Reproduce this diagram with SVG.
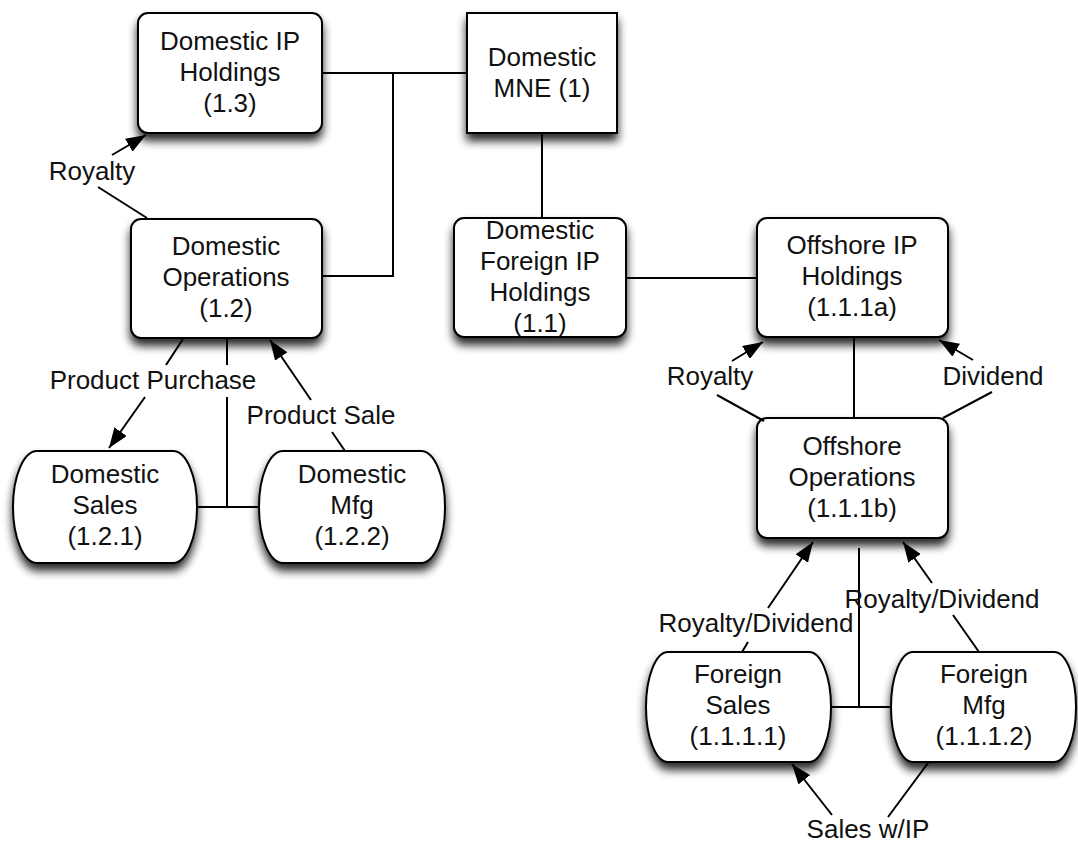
<svg xmlns="http://www.w3.org/2000/svg" width="1078" height="844" viewBox="0 0 1078 844">
  <style>
    .box { fill: #ffffff; stroke: #000000; stroke-width: 2; filter: url(#shadow); }
    .txt { font-family: "Liberation Sans", Arial, Helvetica, sans-serif; font-size: 26px; fill: #111111; text-anchor: middle; }
    .wire { fill: none; stroke: #000000; stroke-width: 2; }
    .flow { fill: none; stroke: #000000; stroke-width: 2; marker-end: url(#head); }
  </style>
  <defs>
    <filter id="shadow" x="-20%" y="-20%" width="140%" height="160%">
      <feGaussianBlur in="SourceAlpha" stdDeviation="5"/>
      <feOffset dx="0" dy="7" result="blur"/>
      <feComponentTransfer in="blur" result="soft">
        <feFuncA type="linear" slope="0.85"/>
      </feComponentTransfer>
      <feMerge>
        <feMergeNode in="soft"/>
        <feMergeNode in="SourceGraphic"/>
      </feMerge>
    </filter>
    <marker id="head" markerUnits="userSpaceOnUse" viewBox="0 0 20 15" refX="20" refY="7.5" markerWidth="20" markerHeight="15" orient="auto">
      <path d="M0,0 L20,7.5 L0,15 z" fill="#000000"/>
    </marker>
  </defs>

  <rect width="1078" height="844" fill="#ffffff"/>

  <!-- entities -->
  <g id="domestic-ip-holdings">
    <rect class="box" x="138" y="13" width="184" height="120" rx="10"/>
    <text class="txt" x="230" y="50">Domestic IP</text>
    <text class="txt" x="230" y="81">Holdings</text>
    <text class="txt" x="230" y="112">(1.3)</text>
  </g>
  <g id="domestic-mne">
    <rect class="box" x="467" y="13" width="150" height="120"/>
    <text class="txt" x="542" y="66">Domestic</text>
    <text class="txt" x="542" y="97">MNE (1)</text>
  </g>
  <g id="domestic-operations">
    <rect class="box" x="131" y="219" width="191" height="119" rx="10"/>
    <text class="txt" x="226" y="255">Domestic</text>
    <text class="txt" x="226" y="286">Operations</text>
    <text class="txt" x="226" y="317">(1.2)</text>
  </g>
  <g id="domestic-foreign-ip-holdings">
    <rect class="box" x="454" y="218" width="172" height="119" rx="10"/>
    <text class="txt" x="540" y="239">Domestic</text>
    <text class="txt" x="540" y="270">Foreign IP</text>
    <text class="txt" x="540" y="301">Holdings</text>
    <text class="txt" x="540" y="332">(1.1)</text>
  </g>
  <g id="offshore-ip-holdings">
    <rect class="box" x="757" y="218" width="191" height="119" rx="10"/>
    <text class="txt" x="852" y="254">Offshore IP</text>
    <text class="txt" x="852" y="285">Holdings</text>
    <text class="txt" x="852" y="316">(1.1.1a)</text>
  </g>
  <g id="offshore-operations">
    <rect class="box" x="757" y="418" width="191" height="120" rx="10"/>
    <text class="txt" x="852" y="455">Offshore</text>
    <text class="txt" x="852" y="486">Operations</text>
    <text class="txt" x="852" y="517">(1.1.1b)</text>
  </g>
  <g id="domestic-sales">
    <rect class="box" x="13" y="451" width="184" height="112" rx="24" ry="56"/>
    <text class="txt" x="105" y="483">Domestic</text>
    <text class="txt" x="105" y="514">Sales</text>
    <text class="txt" x="105" y="545">(1.2.1)</text>
  </g>
  <g id="domestic-mfg">
    <rect class="box" x="259" y="451" width="186" height="112" rx="24" ry="56"/>
    <text class="txt" x="352" y="483">Domestic</text>
    <text class="txt" x="352" y="514">Mfg</text>
    <text class="txt" x="352" y="545">(1.2.2)</text>
  </g>
  <g id="foreign-sales">
    <rect class="box" x="646" y="652" width="185" height="110" rx="22" ry="55"/>
    <text class="txt" x="738" y="683">Foreign</text>
    <text class="txt" x="738" y="714">Sales</text>
    <text class="txt" x="738" y="745">(1.1.1.1)</text>
  </g>
  <g id="foreign-mfg">
    <rect class="box" x="891" y="652" width="185" height="110" rx="22" ry="55"/>
    <text class="txt" x="984" y="683">Foreign</text>
    <text class="txt" x="984" y="714">Mfg</text>
    <text class="txt" x="984" y="745">(1.1.1.2)</text>
  </g>

  <!-- connectors: ownership tree and payment flows -->
  <g id="connectors">
    <path class="wire" d="M322,73 H467 M393,73 V276 H322"/>
    <path class="wire" d="M542,133 V218"/>
    <path class="wire" d="M626,278 H757"/>
    <path class="wire" d="M854,337 V418"/>
    <path class="wire" d="M227,338 V365 M227,397 V507 M197,507 H259"/>
    <path class="wire" d="M859,548 V707 M831,707 H891"/>

    <path class="flow" d="M147,218 L98,187 M112,155 L146,135"/>
    <path class="flow" d="M183,339 L166,365 M145,397 L109,448"/>
    <path class="flow" d="M345,451 L332,432 M311,400 L270,340"/>
    <path class="flow" d="M764,421 L717,395 M732,361 L763,342"/>
    <path class="flow" d="M943,418 L992,392 M973,360 L939,340"/>
    <path class="flow" d="M742,652 L748,642 M768,608 L813,542"/>
    <path class="flow" d="M979,652 L953,615 M932,583 L903,542"/>
    <path class="flow" d="M928,763 L888,817 M832,815 L792,764"/>

    <text class="txt" x="92" y="180">Royalty</text>
    <text class="txt" x="153" y="389">Product Purchase</text>
    <text class="txt" x="321" y="424">Product Sale</text>
    <text class="txt" x="710" y="385">Royalty</text>
    <text class="txt" x="993" y="385">Dividend</text>
    <text class="txt" x="756" y="632">Royalty/Dividend</text>
    <text class="txt" x="942" y="608">Royalty/Dividend</text>
    <text class="txt" x="868" y="838">Sales w/IP</text>
  </g>
</svg>
